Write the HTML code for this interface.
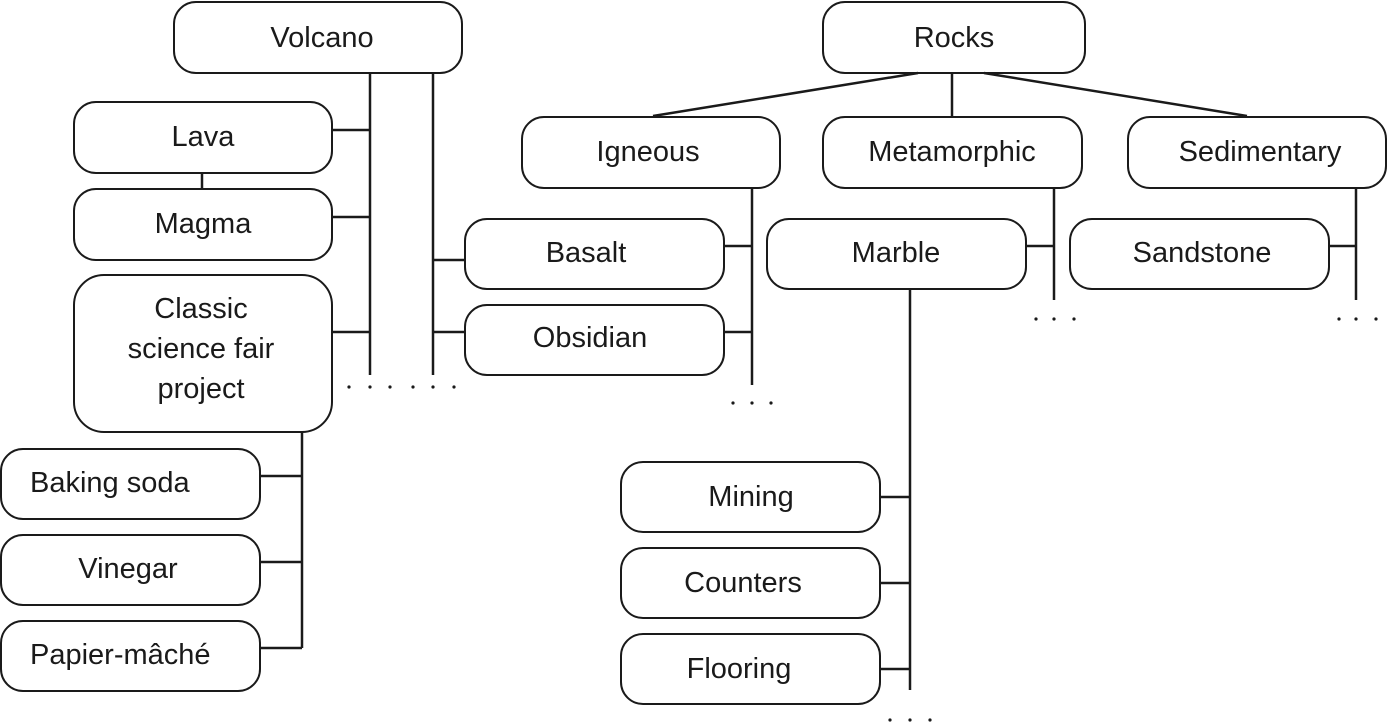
<!DOCTYPE html>
<html><head><meta charset="utf-8"><style>
html,body{margin:0;padding:0;background:#fff;}
svg{display:block;}
text{font-family:"Liberation Sans",sans-serif;font-size:29px;fill:#1a1a1a;}
</style></head><body>
<svg width="1387" height="723" viewBox="0 0 1387 723" xmlns="http://www.w3.org/2000/svg">
<g fill="#fff" stroke="#1a1a1a" stroke-width="2">
<rect x="174" y="2" width="288" height="71" rx="22"/>
<rect x="74" y="102" width="258" height="71" rx="22"/>
<rect x="74" y="189" width="258" height="71" rx="22"/>
<rect x="74" y="275" width="258" height="157" rx="30"/>
<rect x="1" y="449" width="259" height="70" rx="22"/>
<rect x="1" y="535" width="259" height="70" rx="22"/>
<rect x="1" y="621" width="259" height="70" rx="22"/>
<rect x="823" y="2" width="262" height="71" rx="22"/>
<rect x="522" y="117" width="258" height="71" rx="22"/>
<rect x="823" y="117" width="259" height="71" rx="22"/>
<rect x="1128" y="117" width="258" height="71" rx="22"/>
<rect x="465" y="219" width="259" height="70" rx="22"/>
<rect x="465" y="305" width="259" height="70" rx="22"/>
<rect x="767" y="219" width="259" height="70" rx="22"/>
<rect x="1070" y="219" width="259" height="70" rx="22"/>
<rect x="621" y="462" width="259" height="70" rx="22"/>
<rect x="621" y="548" width="259" height="70" rx="22"/>
<rect x="621" y="634" width="259" height="70" rx="22"/>
</g>
<g stroke="#1a1a1a" stroke-width="2.5" fill="none">
<path d="M370 73V375M433 73V375M332 130H370M332 217H370M332 332H370M433 260H464M433 332H464M202 173V188"/>
<path d="M302 432V648M260 476H302M260 562H302M260 648H302"/>
<path d="M918 73L653 116M952 73V116M984 73L1247 116"/>
<path d="M752 188V385M724 246H752M724 332H752"/>
<path d="M1054 188V300M1026 246H1054M1356 188V300M1329 246H1356"/>
<path d="M910 288V690M880 497H910M880 583H910M880 669H910"/>
</g>
<g fill="#1a1a1a">
<circle cx="349" cy="387" r="1.6"/><circle cx="370" cy="387" r="1.6"/><circle cx="390" cy="387" r="1.6"/><circle cx="413" cy="387" r="1.6"/><circle cx="433" cy="387" r="1.6"/><circle cx="454" cy="387" r="1.6"/>
<circle cx="733" cy="403" r="1.6"/><circle cx="752" cy="403" r="1.6"/><circle cx="771" cy="403" r="1.6"/>
<circle cx="1036" cy="319" r="1.6"/><circle cx="1054" cy="319" r="1.6"/><circle cx="1074" cy="319" r="1.6"/>
<circle cx="1339" cy="319" r="1.6"/><circle cx="1356" cy="319" r="1.6"/><circle cx="1376" cy="319" r="1.6"/>
<circle cx="890" cy="720" r="1.6"/><circle cx="910" cy="720" r="1.6"/><circle cx="930" cy="720" r="1.6"/>
</g>
<g text-anchor="middle">
<text x="322" y="47">Volcano</text>
<text x="203" y="146">Lava</text>
<text x="203" y="233">Magma</text>
<text x="201" y="318">Classic</text>
<text x="201" y="358">science fair</text>
<text x="201" y="398">project</text>
<text x="128" y="578">Vinegar</text>
<text x="954" y="47">Rocks</text>
<text x="648" y="161">Igneous</text>
<text x="952" y="161">Metamorphic</text>
<text x="1260" y="161">Sedimentary</text>
<text x="586" y="262">Basalt</text>
<text x="590" y="347">Obsidian</text>
<text x="896" y="262">Marble</text>
<text x="1202" y="262">Sandstone</text>
<text x="751" y="506">Mining</text>
<text x="743" y="592">Counters</text>
<text x="739" y="678">Flooring</text>
</g>
<text x="30" y="492">Baking soda</text>
<text x="30" y="664">Papier-mâché</text>
</svg>
</body></html>
